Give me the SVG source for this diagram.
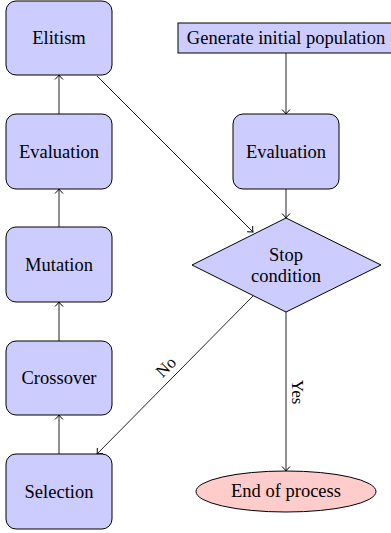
<svg xmlns="http://www.w3.org/2000/svg" width="391" height="533" viewBox="0 0 391 533">
<style>
.box{fill:#ccccff;stroke:#000;stroke-width:1}
.end{fill:#ffcccc;stroke:#000;stroke-width:1}
.t{font-family:"Liberation Serif","Times New Roman",serif;font-size:18.5px;fill:#000;text-anchor:middle;dominant-baseline:central}
.lbl{font-family:"Liberation Serif","Times New Roman",serif;font-size:17px;fill:#000;text-anchor:middle;dominant-baseline:central}
.c{fill:none;stroke:#222;stroke-width:1;marker-end:url(#ar)}
</style>
<defs>
<marker id="ar" markerUnits="userSpaceOnUse" markerWidth="12" markerHeight="12" viewBox="-6 -6 12 12" refX="0" refY="0" orient="auto">
<path d="M-4.5,-4 Q-1.5,-1 0,0 Q-1.5,1 -4.5,4" fill="none" stroke="#000" stroke-width="1"/>
</marker>
</defs>
<g id="connectors">
<line class="c" x1="286" y1="53" x2="286" y2="114"/>
<line class="c" x1="286" y1="189" x2="286" y2="218"/>
<line class="c" x1="286" y1="312" x2="286" y2="471"/>
<line class="c" x1="253" y1="296" x2="97" y2="454"/>
<line class="c" x1="97" y1="76" x2="253" y2="232"/>
<line class="c" x1="59" y1="454" x2="59" y2="415"/>
<line class="c" x1="59" y1="341" x2="59" y2="302"/>
<line class="c" x1="59" y1="227" x2="59" y2="189"/>
<line class="c" x1="59" y1="114" x2="59" y2="75"/>
<text class="lbl" transform="translate(166,367) rotate(-45)">No</text>
<text class="lbl" transform="translate(297,392) rotate(90)">Yes</text>
</g>
<g id="elitism"><rect class="box" x="6" y="1" width="106" height="74" rx="10"/><text class="t" x="59" y="38">Elitism</text></g>
<g id="evaluation-left"><rect class="box" x="6" y="114" width="106" height="75" rx="10"/><text class="t" x="59" y="152">Evaluation</text></g>
<g id="mutation"><rect class="box" x="6" y="227" width="106" height="75" rx="10"/><text class="t" x="59" y="265">Mutation</text></g>
<g id="crossover"><rect class="box" x="6" y="341" width="106" height="74" rx="10"/><text class="t" x="59" y="378">Crossover</text></g>
<g id="selection"><rect class="box" x="6" y="454" width="106" height="75" rx="10"/><text class="t" x="59" y="492">Selection</text></g>
<g id="generate"><rect class="box" x="178" y="23" width="216" height="30"/><text class="t" x="286" y="38">Generate initial population</text></g>
<g id="evaluation-right"><rect class="box" x="233" y="114" width="106" height="75" rx="10"/><text class="t" x="286" y="152">Evaluation</text></g>
<g id="stop"><polygon class="box" points="286,218 381,265 286,312 192,265"/><text class="t" x="286" y="255">Stop</text><text class="t" x="286" y="276">condition</text></g>
<g id="end"><ellipse class="end" cx="286" cy="491.5" rx="90" ry="20.5"/><text class="t" x="286" y="491">End of process</text></g>
</svg>
